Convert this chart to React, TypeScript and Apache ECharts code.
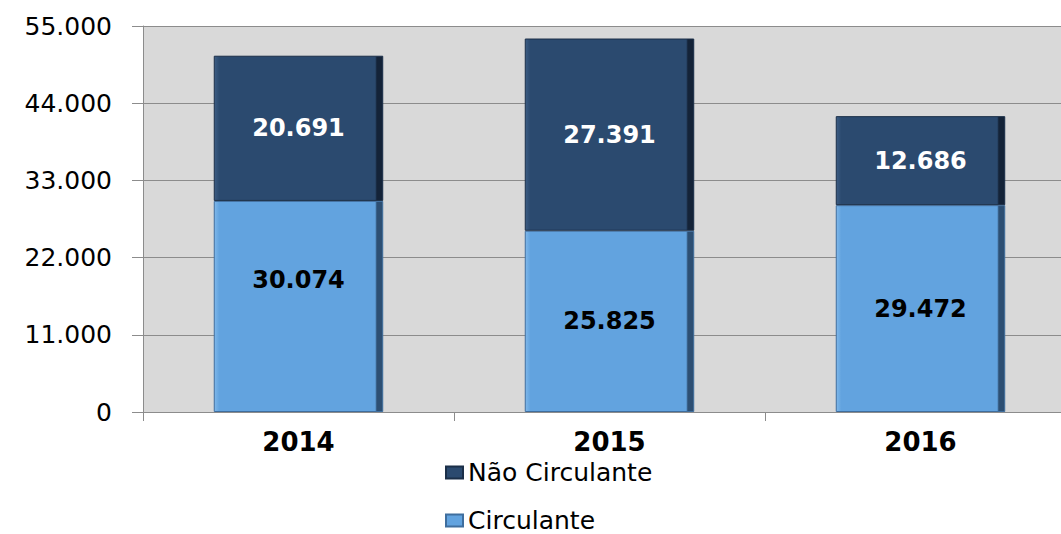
import React, { useEffect, useRef } from "react";
import * as echarts from "echarts";

const categories = ["2014", "2015", "2016"];
const circulante = [30074, 25825, 29472];
const naoCirculante = [20691, 27391, 12686];
const seriesNames = ["Não Circulante", "Circulante"];
const yMin = 0;
const yMax = 55000;
const yInterval = 11000;

const fmt = (v: number) => {
  const s = Math.round(v).toString();
  return s.replace(/\B(?=(\d{3})+(?!\d))/g, ".");
};

const hGrad = (light: string, base: string, dark: string) =>
  new echarts.graphic.LinearGradient(0, 0, 1, 0, [
    { offset: 0, color: light },
    { offset: 0.03, color: base },
    { offset: 0.955, color: base },
    { offset: 0.965, color: dark },
    { offset: 1, color: dark },
  ]);

export default function App() {
  const ref = useRef<HTMLDivElement>(null);
  useEffect(() => {
    document.body.style.margin = "0";
    document.body.style.overflow = "hidden";
    if (!ref.current) return;
    const chart = echarts.init(ref.current, undefined, { renderer: "svg" });
    const font = "DejaVu Sans";
    const legendText = { fontFamily: font, fontSize: 25, lineHeight: 25, color: "#000" };
    chart.setOption({
      animation: false,
      backgroundColor: "#ffffff",
      grid: {
        left: 143,
        top: 26,
        width: 933,
        bottom: 122,
        outerBoundsMode: "none",
        containLabel: false,
        show: true,
        backgroundColor: "#d9d9d9",
        borderWidth: 0,
      },
      legend: [
        {
          left: 445,
          top: 460,
          padding: 0,
          itemWidth: 17,
          itemHeight: 12,
          icon: "rect",
          data: [seriesNames[0]],
          textStyle: legendText,
        },
        {
          left: 445,
          top: 508,
          padding: 0,
          itemWidth: 17,
          itemHeight: 12,
          icon: "rect",
          data: [seriesNames[1]],
          textStyle: legendText,
        },
      ],
      xAxis: {
        type: "category",
        data: categories,
        axisLine: { show: true, lineStyle: { color: "#8c8c8c", width: 1 } },
        axisTick: { show: true, length: 9, lineStyle: { color: "#8c8c8c" } },
        axisLabel: {
          fontFamily: font,
          fontSize: 26,
          fontWeight: "bold",
          color: "#000",
          margin: 17,
        },
      },
      yAxis: {
        type: "value",
        min: yMin,
        max: yMax,
        interval: yInterval,
        axisLine: { show: true, lineStyle: { color: "#8c8c8c", width: 1 } },
        axisTick: { show: true, length: 11, lineStyle: { color: "#8c8c8c" } },
        splitLine: { show: true, lineStyle: { color: "#8c8c8c", width: 1 } },
        axisLabel: {
          fontFamily: font,
          fontSize: 25,
          color: "#000",
          margin: 31,
          formatter: (v: number) => fmt(v),
        },
      },
      series: [
        {
          name: seriesNames[1],
          type: "bar",
          stack: "total",
          barWidth: "54.5%",
          data: circulante.map((v, i) =>
            i === 0 ? { value: v, label: { offset: [0, -26] } } : v
          ),
          itemStyle: {
            color: hGrad("#7fb8ea", "#62a3df", "#2d4f73"),
            borderColor: "#3f6e9e",
            borderWidth: 1,
          },
          label: {
            show: true,
            position: "inside",
            fontFamily: font,
            fontSize: 24,
            fontWeight: "bold",
            color: "#000",
            formatter: (p: any) => fmt(p.value),
          },
        },
        {
          name: seriesNames[0],
          type: "bar",
          stack: "total",
          barWidth: "54.5%",
          data: naoCirculante,
          itemStyle: {
            color: hGrad("#3d5d84", "#2b4a6f", "#142338"),
            borderColor: "#1b2f48",
            borderWidth: 1,
          },
          label: {
            show: true,
            position: "inside",
            fontFamily: font,
            fontSize: 24,
            fontWeight: "bold",
            color: "#ffffff",
            formatter: (p: any) => fmt(p.value),
          },
        },
      ],
    });
    return () => chart.dispose();
  }, []);
  return (
    <div
      ref={ref}
      style={{ position: "fixed", left: 0, top: 0, width: 1061, height: 534 }}
    />
  );
}
